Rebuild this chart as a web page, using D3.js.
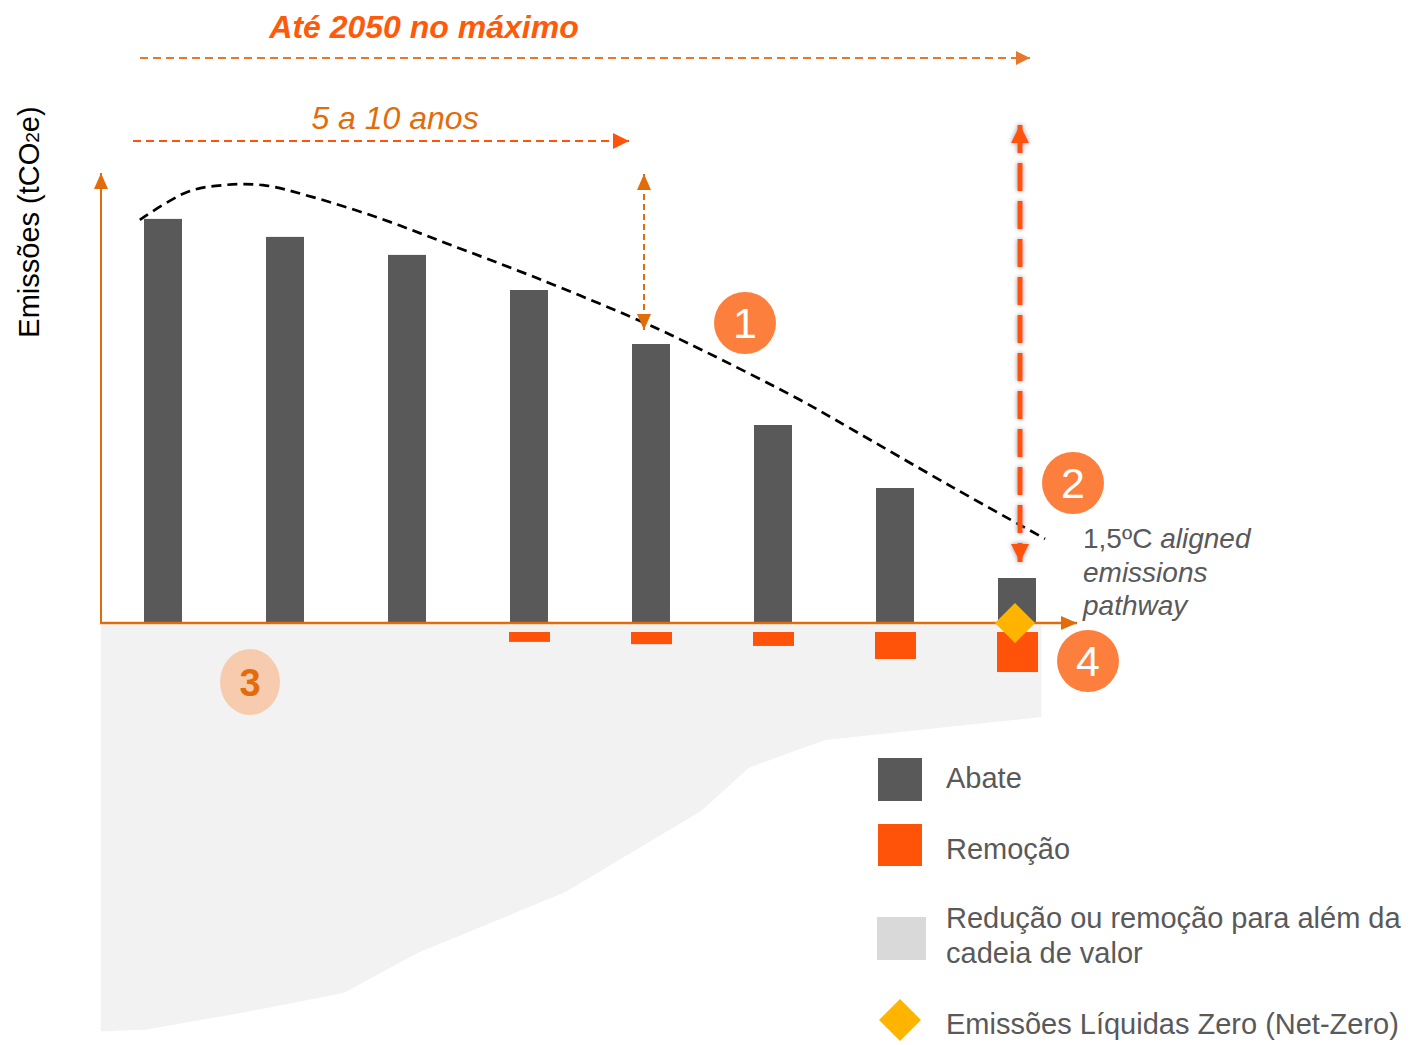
<!DOCTYPE html>
<html>
<head>
<meta charset="utf-8">
<script src="https://cdn.jsdelivr.net/npm/d3@7"></script>
<style>
  body { margin: 0; background: #fff; }
  svg { display: block; font-family: "Liberation Sans", Arial, sans-serif; }
</style>
</head>
<body>
<svg id="chart" width="1410" height="1045"></svg>
<script>
// data (y in arbitrary emission units, 0 = x axis)
const steps = [0, 1, 2, 3, 4, 5, 6, 7];
const abate = [89.8, 85.8, 81.8, 74, 62, 44, 30, 10];
const remocao = [0, 0, 0, 2.2, 2.7, 3.1, 6, 8.9];

// 1.5C pathway (x in step units)
const pathX = [-0.19, 0.2, 0.49, 0.82, 1.22, 1.77, 2.32, 3.06, 3.93, 4.4, 5.22, 5.63, 6.47, 7.23];
const pathY = [89.6, 95.8, 97.3, 97.3, 94.7, 90, 84.4, 76.7, 66.9, 60.9, 49.6, 43.3, 30.2, 18.7];

// area beyond the value chain (below the axis)
const areaX = [-0.51, 7.2, 7.2, 5.43, 5.04, 4.8, 4.41, 3.3, 2.09, 1.48, 0.63, -0.15, -0.51];
const areaY = [-0.4, -0.4, -20.9, -26, -29.8, -32.2, -41.8, -59.8, -73.3, -82.2, -86.7, -90.4, -90.7];

const legendLabels = ['Abate', 'Remoção', ['Redução ou remoção para além da', 'cadeia de valor'], 'Emissões Líquidas Zero (Net-Zero)'];

const svg = d3.select('#chart');

const x = d3.scaleLinear().domain([0, 7]).range([163, 1017]);
const y = d3.scaleLinear().domain([0, 100]).range([623, 173]);

const GREY = '#595959';
const RED = '#FF5309';
const AXIS = '#E36C0A';
const BADGE = '#FD7F3D';

const defs = svg.append('defs');
function marker(id, color, w, h) {
    defs.append('marker')
        .attr('id', id)
        .attr('viewBox', `0 0 ${w} ${h}`)
        .attr('refX', w).attr('refY', h / 2)
        .attr('markerWidth', w).attr('markerHeight', h)
        .attr('markerUnits', 'userSpaceOnUse')
        .attr('orient', 'auto-start-reverse')
        .append('path')
        .attr('d', `M0,0L${w},${h / 2}L0,${h}Z`)
        .attr('fill', color);
}
marker('axisHead', AXIS, 16, 14);
marker('topHead', '#E8772E', 14, 14);
marker('yrsHead', RED, 16, 16);
marker('gapHead', AXIS, 16, 14);
marker('bigHead', RED, 18, 18);

defs.append('filter').attr('id', 'shadow')
    .attr('filterUnits', 'userSpaceOnUse')
    .attr('x', 990).attr('y', 100).attr('width', 60).attr('height', 490)
    .append('feDropShadow')
    .attr('dx', 0).attr('dy', 0).attr('stdDeviation', 2.5)
    .attr('flood-color', '#777').attr('flood-opacity', 0.8);

// grey area
const areaLine = d3.line().x(d => x(d[0])).y(d => y(d[1]));
svg.append('path')
    .datum(d3.zip(areaX, areaY))
    .attr('d', d => areaLine(d) + 'Z')
    .attr('fill', '#F2F2F2');

// abatement bars
svg.selectAll('rect.abate')
    .data(steps)
    .enter()
    .append('rect')
    .attr('class', 'abate')
    .attr('x', i => x(i) - 19)
    .attr('width', 38)
    .attr('y', i => y(abate[i]))
    .attr('height', i => y(0) - y(abate[i]))
    .attr('fill', GREY);

// removal bars (below the axis)
svg.selectAll('rect.rem')
    .data(steps.filter(i => remocao[i] > 0))
    .enter()
    .append('rect')
    .attr('class', 'rem')
    .attr('x', i => x(i) - 20)
    .attr('width', 41)
    .attr('y', y(0) + 9)
    .attr('height', i => y(0) - y(remocao[i]))
    .attr('fill', RED);

// axes
svg.append('line')
    .attr('x1', 101).attr('x2', 101)
    .attr('y1', y(0) + 1).attr('y2', y(100))
    .attr('stroke', AXIS).attr('stroke-width', 2)
    .attr('marker-end', 'url(#axisHead)');
svg.append('line')
    .attr('x1', 100).attr('x2', 1077)
    .attr('y1', y(0)).attr('y2', y(0))
    .attr('stroke', AXIS).attr('stroke-width', 2.5)
    .attr('marker-end', 'url(#axisHead)');

// pathway
svg.append('path')
    .datum(d3.zip(pathX, pathY))
    .attr('d', d3.line().x(d => x(d[0])).y(d => y(d[1])).curve(d3.curveCatmullRom))
    .attr('fill', 'none')
    .attr('stroke', '#000')
    .attr('stroke-width', 2.7)
    .attr('stroke-dasharray', '10,6');

// net zero diamond
svg.append('path')
    .attr('d', d3.symbol(d3.symbolSquare, 800)())
    .attr('transform', `translate(${x(7) - 2},${y(0)}) rotate(45)`)
    .attr('fill', '#FFB500');

// top timeline arrows
svg.append('line')
    .attr('x1', 140).attr('x2', 1030).attr('y1', 58).attr('y2', 58)
    .attr('stroke', '#E8772E').attr('stroke-width', 2)
    .attr('stroke-dasharray', '8,5')
    .attr('marker-end', 'url(#topHead)');
svg.append('text')
    .attr('x', 424).attr('y', 38)
    .attr('text-anchor', 'middle')
    .attr('font-family', '"Liberation Sans Narrow", "Liberation Sans", Arial, sans-serif')
    .attr('font-size', 32).attr('font-weight', 'bold').attr('font-style', 'italic')
    .attr('fill', '#FF5A0A')
    .text('Até 2050 no máximo');

svg.append('line')
    .attr('x1', 133).attr('x2', 629).attr('y1', 141).attr('y2', 141)
    .attr('stroke', RED).attr('stroke-width', 2)
    .attr('stroke-dasharray', '8,5')
    .attr('marker-end', 'url(#yrsHead)');
svg.append('text')
    .attr('x', 395).attr('y', 129)
    .attr('text-anchor', 'middle')
    .attr('font-family', '"Liberation Sans Narrow", "Liberation Sans", Arial, sans-serif')
    .attr('font-size', 32).attr('font-style', 'italic')
    .attr('fill', '#E36C0A')
    .text('5 a 10 anos');

// gap arrow above bar 5
svg.append('line')
    .attr('x1', 644).attr('x2', 644).attr('y1', 174).attr('y2', 330)
    .attr('stroke', AXIS).attr('stroke-width', 2)
    .attr('stroke-dasharray', '6,4')
    .attr('marker-start', 'url(#gapHead)')
    .attr('marker-end', 'url(#gapHead)');

// big arrow at the last step
svg.append('path')
    .attr('d', 'M1020,125L1020,562')
    .attr('fill', 'none')
    .attr('stroke', RED).attr('stroke-width', 5)
    .attr('stroke-dasharray', '28,10')
    .attr('filter', 'url(#shadow)')
    .attr('marker-start', 'url(#bigHead)')
    .attr('marker-end', 'url(#bigHead)');

// numbered badges
const badges = [
    { n: '1', cx: 745, cy: 323 },
    { n: '2', cx: 1073, cy: 483 },
    { n: '4', cx: 1088, cy: 661 }
];
svg.selectAll('circle.badge')
    .data(badges)
    .enter()
    .append('circle')
    .attr('class', 'badge')
    .attr('cx', d => d.cx).attr('cy', d => d.cy).attr('r', 31)
    .attr('fill', BADGE);
svg.selectAll('text.badge')
    .data(badges)
    .enter()
    .append('text')
    .attr('class', 'badge')
    .attr('x', d => d.cx).attr('y', d => d.cy + 15)
    .attr('text-anchor', 'middle')
    .attr('font-size', 43)
    .attr('fill', '#fff')
    .text(d => d.n);

svg.append('ellipse')
    .attr('cx', 250).attr('cy', 682).attr('rx', 30).attr('ry', 33)
    .attr('fill', '#F7CBAD');
svg.append('text')
    .attr('x', 250).attr('y', 696)
    .attr('text-anchor', 'middle')
    .attr('font-size', 38).attr('font-weight', 'bold')
    .attr('fill', '#E36C0A')
    .text('3');

// pathway label
const pl = svg.append('text')
    .attr('font-size', 28).attr('fill', GREY);
const l1 = pl.append('tspan').attr('x', 1083).attr('y', 548);
l1.append('tspan').text('1,5ºC ');
l1.append('tspan').attr('font-style', 'italic').text('aligned');
pl.append('tspan').attr('x', 1083).attr('y', 582).attr('font-style', 'italic').text('emissions');
pl.append('tspan').attr('x', 1083).attr('y', 615).attr('font-style', 'italic').text('pathway');

// y axis label
const yl = svg.append('text')
    .attr('transform', 'translate(39,222) rotate(-90)')
    .attr('text-anchor', 'middle')
    .attr('font-size', 29)
    .attr('fill', '#000');
yl.append('tspan').text('Emissões (tCO');
yl.append('tspan').attr('font-size', 19).text('2');
yl.append('tspan').text('e)');

// legend
const legend = svg.append('g');
legend.append('rect').attr('x', 878).attr('y', 758).attr('width', 44).attr('height', 43).attr('fill', GREY);
legend.append('rect').attr('x', 878).attr('y', 824).attr('width', 44).attr('height', 42).attr('fill', RED);
legend.append('rect').attr('x', 877).attr('y', 917).attr('width', 49).attr('height', 43).attr('fill', '#D9D9D9');
legend.append('path')
    .attr('d', d3.symbol(d3.symbolSquare, 880)())
    .attr('transform', 'translate(900,1020) rotate(45)')
    .attr('fill', '#FFB500');

const legendY = [788, 859, 928, 1034];
legend.selectAll('text')
    .data(legendLabels)
    .enter()
    .append('text')
    .attr('x', 946)
    .attr('y', (d, i) => legendY[i])
    .attr('font-size', 29)
    .attr('fill', GREY)
    .each(function (d) {
        const t = d3.select(this);
        const lines = Array.isArray(d) ? d : [d];
        lines.forEach((s, k) => {
            t.append('tspan').attr('x', 946).attr('dy', k === 0 ? 0 : 35).text(s);
        });
    });
</script>
</body>
</html>
